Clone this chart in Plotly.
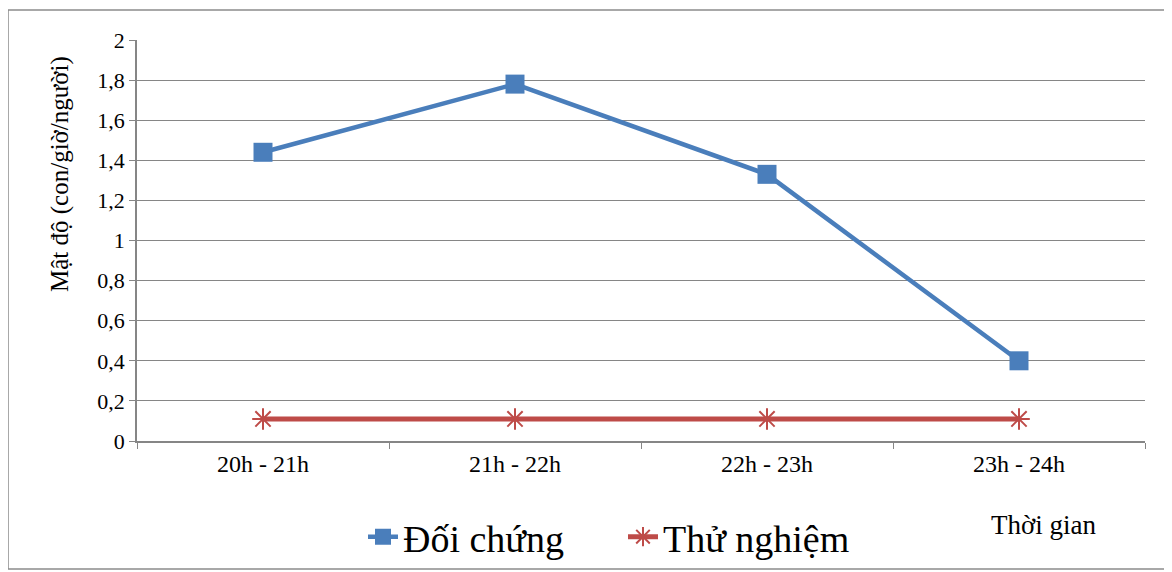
import plotly.graph_objects as go

categories = ["20h - 21h", "21h - 22h", "22h - 23h", "23h - 24h"]
doi_chung = [1.44, 1.78, 1.33, 0.40]
thu_nghiem = [0.11, 0.11, 0.11, 0.11]
y_ticks = [0, 0.2, 0.4, 0.6, 0.8, 1, 1.2, 1.4, 1.6, 1.8, 2]

FONT = "Liberation Serif"
BLUE = "#4A7EBB"
RED = "#BE4B48"

fig = go.Figure()
fig.add_trace(go.Scatter(
    x=categories, y=doi_chung, name="Đối chứng", mode="lines+markers",
    line=dict(color=BLUE, width=4.5),
    marker=dict(symbol="square", size=19, color=BLUE),
))
fig.add_trace(go.Scatter(
    x=categories, y=thu_nghiem, name="Thử nghiệm", mode="lines+markers",
    line=dict(color=RED, width=5),
    marker=dict(symbol="asterisk-open", size=18, color=RED, line=dict(color=RED, width=2)),
))

# page offset of 8px (body margin) is compensated
OFF = 8
W, H = 1172 - OFF, 572 - OFF
L, T = 137 - OFF, 40 - OFF
R = W - (1145 - OFF)
B = H - (441 - OFF)
pw, ph = W - L - R, H - T - B


def px_x(v):
    return (v - OFF - L) / pw


def px_y(v):
    return ((441 - OFF) - (v - OFF)) / ph


fig.update_layout(
    width=W, height=H,
    margin=dict(l=L, r=R, t=T, b=B, autoexpand=False),
    paper_bgcolor="white", plot_bgcolor="white",
    separators=",.",
    font=dict(family=FONT, color="black", size=22),
    showlegend=True,
    legend=dict(orientation="h", x=px_x(363), xanchor="left", y=px_y(537), yanchor="middle",
                font=dict(size=38, family=FONT), entrywidth=215, entrywidthmode="pixels",
                bgcolor="rgba(0,0,0,0)", traceorder="normal"),
    xaxis=dict(
        type="category", tickson="boundaries", ticks="outside", ticklen=6,
        tickcolor="#868686", showline=True, linecolor="#868686", linewidth=1.5,
        showgrid=False, tickfont=dict(size=24, family=FONT), range=[-0.5, 3.5],
    ),
    yaxis=dict(
        range=[0, 2], tickvals=y_ticks, ticks="outside", ticklen=6,
        tickcolor="#868686", showline=True, linecolor="#868686", linewidth=1.5,
        showgrid=True, gridcolor="#868686", gridwidth=1.2, zeroline=False,
        tickfont=dict(size=22, family=FONT),
    ),
    shapes=[dict(type="rect", xref="paper", yref="paper",
                 x0=px_x(8), x1=px_x(1169), y0=px_y(569), y1=px_y(10),
                 line=dict(color="#8C8C8C", width=1.5), fillcolor="rgba(0,0,0,0)", layer="below")],
    annotations=[
        dict(text="Thời gian", xref="paper", yref="paper", x=px_x(1044), y=px_y(525),
             xanchor="center", yanchor="middle", showarrow=False,
             font=dict(size=27, family=FONT)),
        dict(text="Mật độ (con/giờ/người)", xref="paper", yref="paper", x=px_x(60), y=px_y(174),
             xanchor="center", yanchor="middle", showarrow=False, textangle=-90,
             font=dict(size=25, family=FONT)),
    ],
)

fig.write_html("out.html")
